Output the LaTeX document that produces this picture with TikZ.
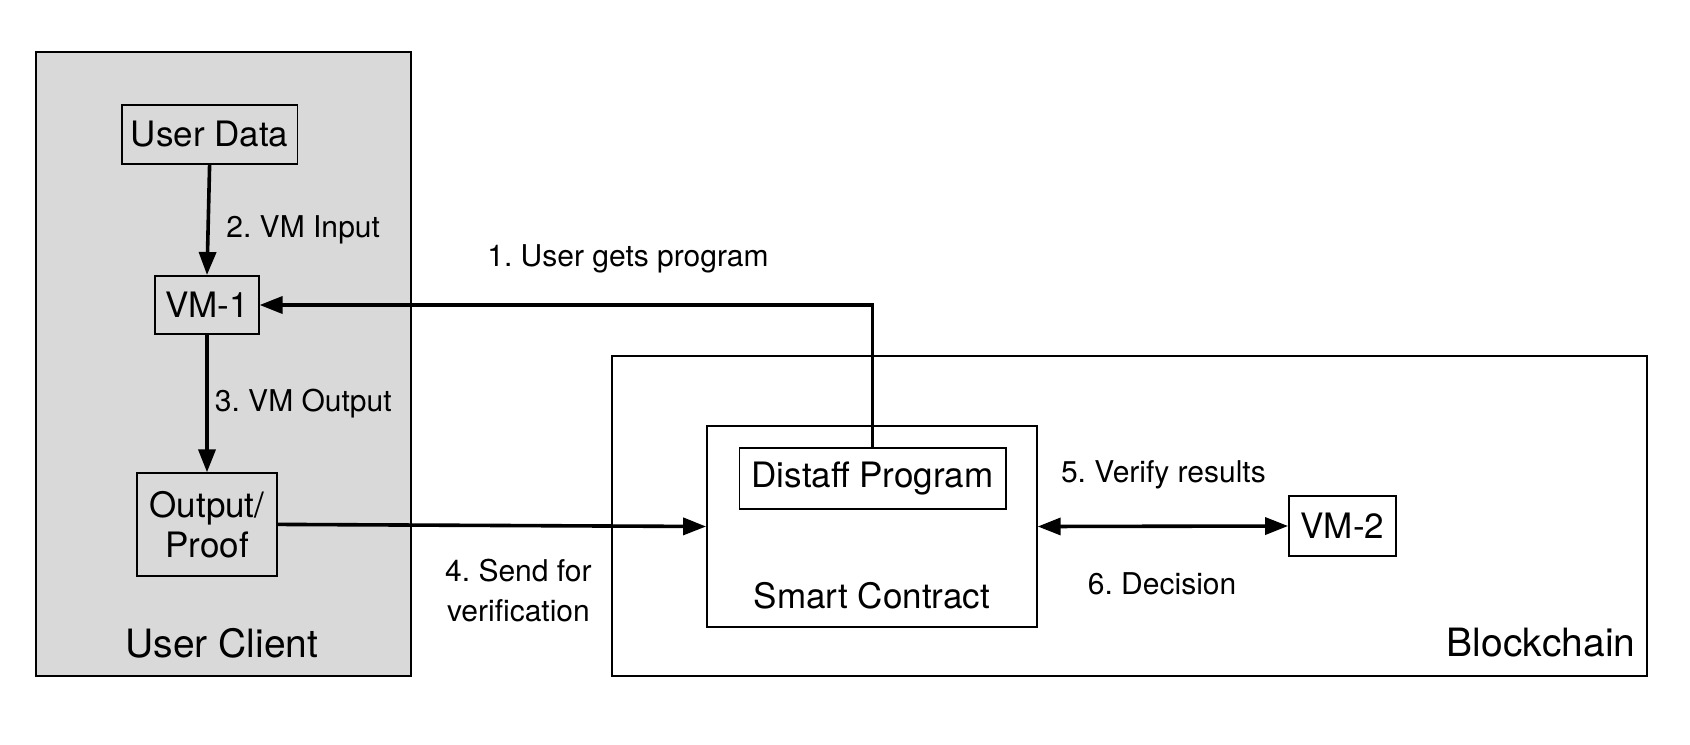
\documentclass[tikz,border=0pt]{standalone}
\usepackage{fontspec}
\setmainfont{TeX Gyre Heros}
\usetikzlibrary{arrows.meta}
\definecolor{clientgray}{HTML}{D9D9D9}
\frenchspacing
\tikzset{
  box/.style={draw=black, line width=0.9pt, inner sep=0pt, align=center,
    font=\fontsize{17.5}{20}\selectfont},
  frame/.style={draw=black, line width=0.9pt},
  conn/.style={line width=1.8pt, -{Triangle[length=11.5pt,width=8.5pt]}},
  bothconn/.style={line width=1.8pt, {Triangle[length=11.5pt,width=8.5pt]}-{Triangle[length=11.5pt,width=8.5pt]}},
  elabel/.style={inner sep=0pt, font=\fontsize{15}{18}\selectfont},
  title/.style={inner sep=0pt, font=\fontsize{19.5}{22}\selectfont}
}
\begin{document}
\begin{tikzpicture}[x=0.5pt,y=-0.5pt]
\useasboundingbox (0,0) rectangle (1690,744);
% containers
\draw[frame, fill=clientgray] (35.6,51.7) rectangle (410.6,675.8);
\draw[frame, fill=white] (612.2,355.7) rectangle (1646.9,675.8);
\node[title] (uc) at (222,643) {User Client};
\node[title, anchor=east] (bc) at (1636,643) {Blockchain};
% client nodes
\node[box, minimum width=87.9pt, minimum height=29.6pt] (ud) at (209.6,134.2) {User Data};
\node[box, minimum width=51.7pt, minimum height=29.1pt] (vm1) at (207,305) {VM-1};
\node[box, minimum width=70pt, minimum height=51.2pt, font=\fontsize{17.5}{20}\selectfont] (op) at (207,524.4) {Output/\\Proof};
% blockchain nodes
\node[box, fill=white, minimum width=164.9pt, minimum height=100.8pt] (sc) at (871.9,526.5) {};
\node[box, minimum width=133.1pt, minimum height=30.2pt] (dp) at (872.5,478.5) {Distaff Program};
\node[title, font=\fontsize{17.5}{20}\selectfont] (sclabel) at (871.9,596) {Smart Contract};
\node[box, minimum width=53.4pt, minimum height=30.2pt] (vm2) at (1342.4,526) {VM-2};
% connectors
\draw[conn] (ud.south) -- (vm1.north);
\draw[conn] (vm1.south) -- (op.north);
\draw[conn] (dp.north) |- (vm1.east);
\draw[conn] (op.east) -- (sc.west);
\draw[bothconn] (sc.east) -- (vm2.west);
% labels
\node[elabel, anchor=west] (l2) at (226,229.6) {2. VM Input};
\node[elabel, anchor=west] (l3) at (214.5,404) {3. VM Output};
\node[elabel, anchor=west] (l1) at (487,258.7) {1. User gets program};
\node[elabel, align=center, font=\fontsize{15}{20}\selectfont] (l4) at (518.4,590.6) {4. Send for\\verification};
\node[elabel, anchor=west] (l5) at (1060.6,475) {5. Verify results};
\node[elabel, anchor=west] (l6) at (1087.5,584) {6. Decision};
\end{tikzpicture}
\end{document}
